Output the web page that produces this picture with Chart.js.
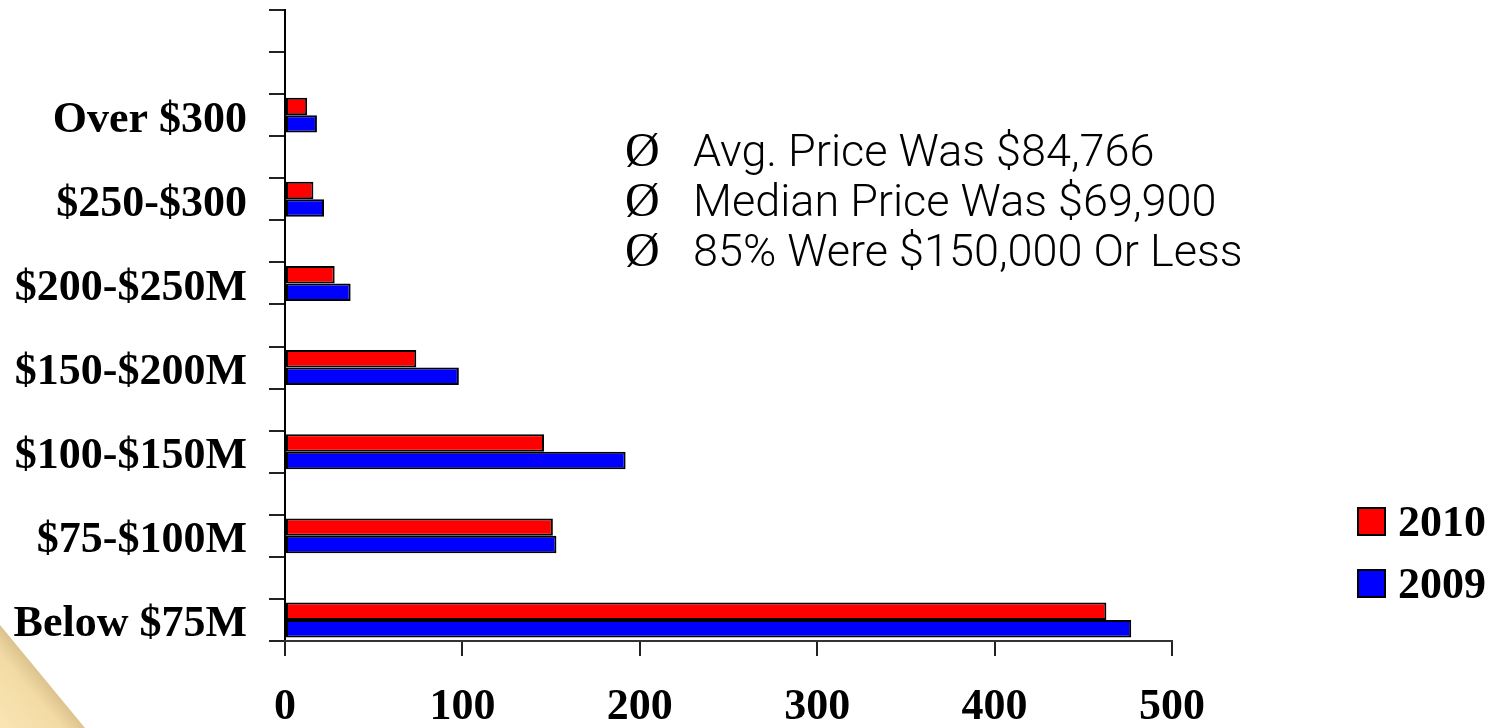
<!DOCTYPE html>
<html>
<head>
<meta charset="utf-8">
<script src="https://cdn.jsdelivr.net/npm/chart.js@4"></script>
<style>
    html, body { margin: 0; padding: 0; background: #fff; }
    #wrap { position: relative; width: 1495px; height: 728px; overflow: hidden; }
    #corner {
        position: absolute; left: 0; top: 625px; width: 85px; height: 103px;
        clip-path: polygon(0 0, 100% 100%, 0 100%);
        background: linear-gradient(50deg, #f9e5b4 0%, #f3dba5 36%, #dcc38e 50%);
    }
    #stockChart { position: absolute; left: 0; top: 0; }
    .note { position: absolute; left: 625px; height: 50px; line-height: 50px; white-space: nowrap; color: #000; }
    .note .mark { display: inline-block; width: 68px; font-family: 'Liberation Serif', serif; font-size: 48px; }
    .note .txt { font-family: Roboto, 'Open Sans', sans-serif; font-weight: 300; font-size: 45px; }
    #legend { position: absolute; left: 1357px; top: 490px; }
    #legend .item { display: flex; align-items: center; height: 62px; }
    #legend .box { width: 29px; height: 29px; box-sizing: border-box; border: 2px solid #000; margin-right: 12px; }
    #legend .lbl { font-family: 'Liberation Serif', serif; font-weight: bold; font-size: 44px; color: #000; }
</style>
</head>
<body>
<div id="wrap">
    <div id="corner"></div>
    <canvas id="stockChart" width="1495" height="728"></canvas>
    <div id="notes"></div>
    <div id="legend"></div>
</div>
<script>
// Price ranges, top to bottom as drawn
const categories = ['Over $300', '$250-$300', '$200-$250M', '$150-$200M', '$100-$150M', '$75-$100M', 'Below $75M'];
const sales2010 = [12.5, 16, 28, 74, 146, 151, 463];
const sales2009 = [18, 22, 37, 98, 192, 153, 477];
const xTicks = [0, 100, 200, 300, 400, 500];
const notes = ['Avg. Price Was $84,766', 'Median Price Was $69,900', '85% Were $150,000 Or Less'];

// The axis has a blank slot between each range and two blank slots on top
const labels = ['', ''];
const data2010 = [null, null];
const data2009 = [null, null];
categories.forEach((c, i) => {
    if (i > 0) {
        labels.push('');
        data2010.push(null);
        data2009.push(null);
    }
    labels.push(c);
    data2010.push(sales2010[i]);
    data2009.push(sales2009[i]);
});

const serifBold = { family: "'Liberation Serif', 'Times New Roman', serif", size: 44, weight: 'bold' };

const ctx = document.getElementById('stockChart').getContext('2d');
const chart = new Chart(ctx, {
    type: 'bar',
    data: {
        labels: labels,
        datasets: [
            { label: '2010', data: data2010, backgroundColor: '#ff0000', borderColor: '#000', borderWidth: 2, borderSkipped: false },
            { label: '2009', data: data2009, backgroundColor: '#0000ff', borderColor: '#000', borderWidth: 2, borderSkipped: false }
        ]
    },
    options: {
        indexAxis: 'y',
        responsive: false,
        animation: false,
        categoryPercentage: 0.83,
        barPercentage: 1.0,
        layout: { padding: { top: 10, right: 323, bottom: 0, left: 0 } },
        plugins: {
            legend: { display: false },
            tooltip: { enabled: false }
        },
        scales: {
            y: {
                offset: true,
                afterFit: s => {
                    s.width = 285;
                    s.paddingTop = 0;
                    s.paddingBottom = 0;
                },
                grid: { offset: true, drawOnChartArea: false, tickLength: 16, color: '#222', lineWidth: 2 },
                border: { display: true, color: '#000', width: 2 },
                ticks: { autoSkip: false, color: '#000', font: serifBold, padding: 22, labelOffset: 5 }
            },
            x: {
                min: 0,
                max: 500,
                afterFit: s => { s.height = 87; },
                afterBuildTicks: s => { s.ticks = xTicks.map(v => ({ value: v })); },
                grid: { drawOnChartArea: false, tickLength: 15, color: '#222', lineWidth: 2 },
                border: { display: true, color: '#333', width: 2 },
                ticks: { color: '#000', font: serifBold, padding: 25 }
            }
        }
    }
});

// bullet notes
const notesEl = document.getElementById('notes');
notes.forEach((t, i) => {
    const d = document.createElement('div');
    d.className = 'note';
    d.style.top = (125 + i * 50) + 'px';
    d.innerHTML = '<span class="mark">Ø</span><span class="txt"></span>';
    d.querySelector('.txt').textContent = t;
    notesEl.appendChild(d);
});

// legend from datasets
const legendEl = document.getElementById('legend');
chart.data.datasets.forEach(ds => {
    const item = document.createElement('div');
    item.className = 'item';
    item.innerHTML = '<span class="box"></span><span class="lbl"></span>';
    item.querySelector('.box').style.background = ds.backgroundColor;
    item.querySelector('.lbl').textContent = ds.label;
    legendEl.appendChild(item);
});
</script>
</body>
</html>
